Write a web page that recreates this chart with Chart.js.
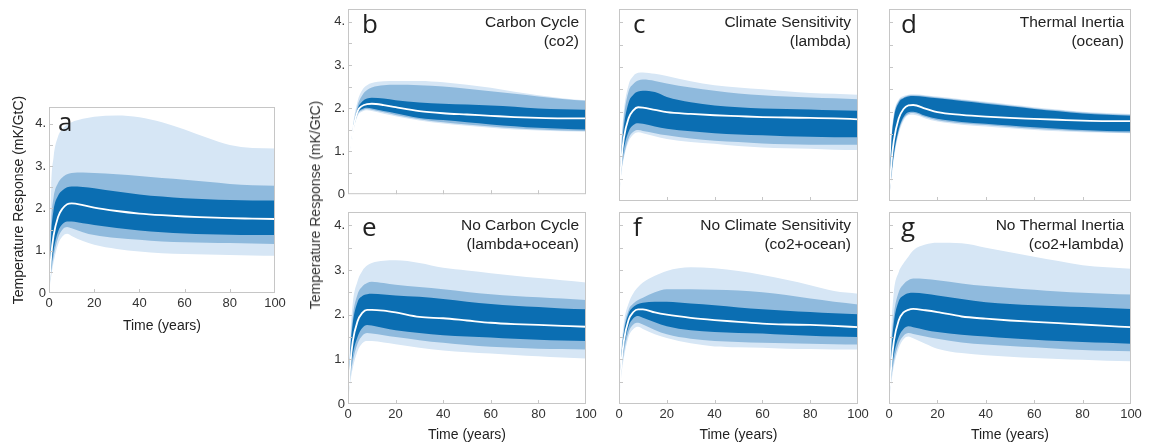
<!DOCTYPE html>
<html>
<head>
<meta charset="utf-8">
<script src="https://cdn.jsdelivr.net/npm/chart.js@4.4.0/dist/chart.umd.min.js"></script>
<style>
  body { margin: 0; background: #fff; width: 1149px; height: 446px; position: relative; overflow: hidden; }
  .panel { position: absolute; }
  #sharedTitle {
    position: absolute; left: 315px; top: 205px;
    transform: translate(-50%, -50%) rotate(-90deg);
    white-space: nowrap; font-family: "Liberation Sans", Arial, sans-serif;
    font-size: 14px; color: #333;
  }
</style>
</head>
<body>
<div class="panel" id="boxA"><canvas id="chartA"></canvas></div>
<div class="panel" id="boxB"><canvas id="chartB"></canvas></div>
<div class="panel" id="boxC"><canvas id="chartC"></canvas></div>
<div class="panel" id="boxD"><canvas id="chartD"></canvas></div>
<div class="panel" id="boxE"><canvas id="chartE"></canvas></div>
<div class="panel" id="boxF"><canvas id="chartF"></canvas></div>
<div class="panel" id="boxG"><canvas id="chartG"></canvas></div>
<div id="sharedTitle">Temperature Response (mK/GtC)</div>

<script>
// tempo (anni) in cui leggo i valori
var years = [0, 1, 2, 4, 6, 8, 10, 15, 20, 30, 40, 50, 60, 70, 80, 90, 100];

var xTickValues = [0, 20, 40, 60, 80, 100];
var xTickLabels = ['0', '20', '40', '60', '80', '100'];
var yTickValues = [0, 0.5, 1, 1.5, 2, 2.5, 3, 3.5, 4];
var yTickLabels = ['0', '', '1.', '', '2.', '', '3.', '', '4.'];

var yTitle = 'Temperature Response (mK/GtC)';
var xTitle = 'Time (years)';

// a - tutte le incertezze
var aLightHi = [0, 2.5, 3.2, 3.7, 3.88, 3.98, 4.04, 4.12, 4.17, 4.2, 4.16, 4.04, 3.87, 3.67, 3.5, 3.43, 3.42];
var aMedHi   = [0, 1.7, 2.25, 2.6, 2.74, 2.81, 2.84, 2.85, 2.84, 2.81, 2.77, 2.72, 2.68, 2.63, 2.58, 2.55, 2.54];
var aDarkHi  = [0, 1.4, 1.95, 2.3, 2.43, 2.5, 2.52, 2.51, 2.48, 2.4, 2.33, 2.28, 2.24, 2.22, 2.2, 2.19, 2.19];
var aMedian  = [0, 0.9, 1.35, 1.8, 2.0, 2.1, 2.12, 2.08, 2.02, 1.94, 1.88, 1.84, 1.81, 1.79, 1.77, 1.76, 1.75];
var aDarkLo  = [0, 0.6, 1.0, 1.45, 1.63, 1.69, 1.69, 1.65, 1.61, 1.54, 1.48, 1.44, 1.41, 1.39, 1.38, 1.37, 1.37];
var aMedLo   = [0, 0.5, 0.85, 1.3, 1.5, 1.56, 1.53, 1.44, 1.37, 1.3, 1.26, 1.22, 1.2, 1.19, 1.18, 1.17, 1.16];
var aLightLo = [0, 0.4, 0.72, 1.15, 1.34, 1.4, 1.35, 1.23, 1.14, 1.04, 0.98, 0.94, 0.92, 0.91, 0.9, 0.89, 0.88];

// b - Carbon Cycle (co2)
var bLightHi = [0, 0.95, 1.55, 2.15, 2.42, 2.53, 2.58, 2.62, 2.63, 2.63, 2.6, 2.54, 2.47, 2.38, 2.3, 2.23, 2.18];
var bMedHi   = [0, 0.93, 1.5, 2.05, 2.3, 2.42, 2.48, 2.53, 2.54, 2.53, 2.5, 2.45, 2.39, 2.33, 2.27, 2.21, 2.17];
var bDarkHi  = [0, 0.91, 1.46, 1.97, 2.15, 2.22, 2.24, 2.22, 2.18, 2.13, 2.1, 2.08, 2.06, 2.03, 1.99, 1.97, 1.96];
var bMedian  = [0, 0.9, 1.43, 1.92, 2.05, 2.09, 2.1, 2.07, 2.02, 1.93, 1.88, 1.85, 1.82, 1.79, 1.77, 1.76, 1.76];
var bDarkLo  = [0, 0.89, 1.4, 1.87, 1.98, 2.01, 1.99, 1.93, 1.88, 1.77, 1.72, 1.67, 1.62, 1.58, 1.54, 1.52, 1.5];
var bMedLo   = [0, 0.88, 1.38, 1.84, 1.95, 1.98, 1.96, 1.9, 1.84, 1.74, 1.67, 1.62, 1.57, 1.53, 1.5, 1.48, 1.47];
var bLightLo = [0, 0.87, 1.36, 1.81, 1.92, 1.95, 1.93, 1.87, 1.81, 1.71, 1.64, 1.59, 1.54, 1.5, 1.48, 1.46, 1.45];

// c - Climate Sensitivity (lambda)
var cLightHi = [0, 1.3, 2.0, 2.6, 2.8, 2.87, 2.88, 2.85, 2.8, 2.68, 2.59, 2.54, 2.5, 2.46, 2.42, 2.4, 2.38];
var cMedHi   = [0, 1.2, 1.85, 2.45, 2.62, 2.7, 2.72, 2.69, 2.63, 2.54, 2.47, 2.41, 2.37, 2.34, 2.32, 2.3, 2.28];
var cDarkHi  = [0, 1.05, 1.65, 2.2, 2.38, 2.45, 2.47, 2.44, 2.33, 2.21, 2.14, 2.1, 2.07, 2.06, 2.05, 2.03, 2.02];
var cMedian  = [0, 0.9, 1.4, 1.85, 2.03, 2.1, 2.09, 2.04, 1.99, 1.95, 1.92, 1.9, 1.88, 1.87, 1.86, 1.85, 1.83];
var cDarkLo  = [0, 0.75, 1.15, 1.55, 1.7, 1.74, 1.73, 1.67, 1.62, 1.56, 1.52, 1.49, 1.47, 1.45, 1.44, 1.43, 1.43];
var cMedLo   = [0, 0.65, 1.0, 1.4, 1.55, 1.59, 1.57, 1.52, 1.47, 1.4, 1.35, 1.32, 1.29, 1.27, 1.26, 1.26, 1.26];
var cLightLo = [0, 0.62, 0.95, 1.33, 1.49, 1.54, 1.52, 1.45, 1.39, 1.32, 1.28, 1.23, 1.2, 1.18, 1.17, 1.15, 1.14];

// d - Thermal Inertia (ocean)
var dLightHi = [0, 1.4, 1.95, 2.27, 2.35, 2.38, 2.39, 2.37, 2.34, 2.28, 2.22, 2.16, 2.1, 2.05, 2.0, 1.97, 1.95];
var dMedHi   = [0, 1.35, 1.9, 2.24, 2.32, 2.36, 2.37, 2.35, 2.32, 2.26, 2.2, 2.14, 2.08, 2.03, 1.98, 1.95, 1.93];
var dDarkHi  = [0, 1.3, 1.85, 2.2, 2.3, 2.34, 2.35, 2.33, 2.3, 2.24, 2.18, 2.12, 2.06, 2.01, 1.96, 1.93, 1.91];
var dMedian  = [0, 0.85, 1.35, 1.85, 2.06, 2.14, 2.15, 2.07, 1.99, 1.93, 1.89, 1.86, 1.84, 1.82, 1.8, 1.79, 1.79];
var dDarkLo  = [0, 0.6, 1.05, 1.6, 1.88, 1.99, 2.0, 1.91, 1.84, 1.77, 1.73, 1.69, 1.65, 1.62, 1.59, 1.57, 1.56];
var dMedLo   = [0, 0.55, 1.0, 1.55, 1.84, 1.95, 1.97, 1.88, 1.81, 1.74, 1.7, 1.66, 1.62, 1.59, 1.56, 1.54, 1.53];
var dLightLo = [0, 0.5, 0.95, 1.5, 1.8, 1.92, 1.93, 1.85, 1.78, 1.71, 1.67, 1.63, 1.59, 1.56, 1.54, 1.53, 1.52];

// e - No Carbon Cycle (lambda+ocean)
var eLightHi = [0, 1.5, 2.25, 2.75, 2.98, 3.1, 3.16, 3.21, 3.22, 3.16, 3.05, 2.99, 2.93, 2.87, 2.82, 2.77, 2.72];
var eMedHi   = [0, 1.3, 1.95, 2.45, 2.63, 2.71, 2.74, 2.71, 2.67, 2.62, 2.57, 2.51, 2.46, 2.42, 2.39, 2.36, 2.33];
var eDarkHi  = [0, 1.2, 1.8, 2.28, 2.42, 2.46, 2.47, 2.45, 2.43, 2.4, 2.35, 2.29, 2.24, 2.2, 2.17, 2.14, 2.12];
var eMedian  = [0, 0.9, 1.4, 1.85, 2.04, 2.11, 2.11, 2.09, 2.05, 1.95, 1.92, 1.87, 1.82, 1.79, 1.77, 1.75, 1.73];
var eDarkLo  = [0, 0.7, 1.1, 1.5, 1.7, 1.77, 1.76, 1.7, 1.65, 1.59, 1.54, 1.51, 1.49, 1.46, 1.44, 1.42, 1.41];
var eMedLo   = [0, 0.6, 0.95, 1.35, 1.53, 1.59, 1.58, 1.54, 1.5, 1.43, 1.37, 1.32, 1.28, 1.26, 1.24, 1.23, 1.22];
var eLightLo = [0, 0.5, 0.8, 1.18, 1.36, 1.41, 1.41, 1.38, 1.34, 1.26, 1.2, 1.16, 1.13, 1.1, 1.07, 1.04, 1.02];

// f - No Climate Sensitivity (co2+ocean)
var fLightHi = [0, 1.2, 1.8, 2.25, 2.48, 2.62, 2.72, 2.87, 2.98, 3.06, 3.04, 2.98, 2.89, 2.78, 2.66, 2.53, 2.47];
var fMedHi   = [0, 1.1, 1.65, 2.1, 2.25, 2.33, 2.38, 2.5, 2.57, 2.57, 2.56, 2.54, 2.5, 2.44, 2.36, 2.29, 2.23];
var fDarkHi  = [0, 1.05, 1.58, 2.02, 2.17, 2.24, 2.27, 2.29, 2.29, 2.25, 2.21, 2.16, 2.12, 2.09, 2.06, 2.03, 2.01];
var fMedian  = [0, 0.9, 1.4, 1.88, 2.06, 2.12, 2.12, 2.05, 2.0, 1.93, 1.88, 1.84, 1.8, 1.78, 1.77, 1.75, 1.72];
var fDarkLo  = [0, 0.8, 1.25, 1.73, 1.92, 1.97, 1.93, 1.83, 1.74, 1.65, 1.61, 1.59, 1.58, 1.55, 1.53, 1.51, 1.5];
var fMedLo   = [0, 0.72, 1.13, 1.6, 1.78, 1.82, 1.78, 1.66, 1.56, 1.46, 1.41, 1.39, 1.37, 1.36, 1.35, 1.34, 1.33];
var fLightLo = [0, 0.65, 1.03, 1.5, 1.68, 1.73, 1.68, 1.56, 1.48, 1.36, 1.29, 1.27, 1.26, 1.24, 1.23, 1.22, 1.22];

// g - No Thermal Inertia (co2+lambda)
var gLightHi = [0, 1.7, 2.5, 2.95, 3.15, 3.3, 3.44, 3.57, 3.61, 3.6, 3.5, 3.4, 3.3, 3.2, 3.11, 3.06, 3.03];
var gMedHi   = [0, 1.35, 2.0, 2.5, 2.68, 2.77, 2.81, 2.8, 2.77, 2.7, 2.64, 2.6, 2.56, 2.52, 2.49, 2.47, 2.45];
var gDarkHi  = [0, 1.2, 1.82, 2.3, 2.43, 2.48, 2.49, 2.47, 2.43, 2.35, 2.28, 2.24, 2.21, 2.19, 2.17, 2.15, 2.13];
var gMedian  = [0, 0.9, 1.4, 1.87, 2.05, 2.11, 2.13, 2.1, 2.06, 1.96, 1.91, 1.87, 1.84, 1.81, 1.78, 1.75, 1.72];
var gDarkLo  = [0, 0.7, 1.1, 1.5, 1.68, 1.74, 1.72, 1.66, 1.61, 1.55, 1.51, 1.47, 1.44, 1.41, 1.39, 1.37, 1.35];
var gMedLo   = [0, 0.6, 0.95, 1.35, 1.53, 1.59, 1.57, 1.51, 1.46, 1.38, 1.33, 1.3, 1.27, 1.24, 1.21, 1.19, 1.18];
var gLightLo = [0, 0.5, 0.85, 1.25, 1.45, 1.51, 1.47, 1.35, 1.24, 1.14, 1.09, 1.06, 1.03, 1.01, 0.99, 0.97, 0.96];

var panelLetters = ['a', 'b', 'c', 'd', 'e', 'f', 'g'];
var panelTitles = [
  [],
  ['Carbon Cycle', '(co2)'],
  ['Climate Sensitivity', '(lambda)'],
  ['Thermal Inertia', '(ocean)'],
  ['No Carbon Cycle', '(lambda+ocean)'],
  ['No Climate Sensitivity', '(co2+ocean)'],
  ['No Thermal Inertia', '(co2+lambda)']
];

var LIGHT = 'rgb(214, 230, 245)';
var MEDIUM = 'rgb(143, 186, 221)';
var DARK = 'rgb(11, 110, 178)';

var YW = 40, PT = 12, PR = 16;                              // spazio asse y, sopra, a destra

function points(values) {
  return values.map(function (v, i) { return { x: years[i], y: v }; });
}

function band(values, color) {                              // bordo di una fascia, riempita fino alla successiva
  return {
    data: points(values),
    fill: color ? '+1' : false,
    backgroundColor: color || 'transparent',
    borderColor: 'transparent',
    borderWidth: 0,
    pointRadius: 0,
    cubicInterpolationMode: 'monotone'
  };
}

var panelDecor = {
  id: 'panelDecor',
  afterDatasetsDraw: function (chart, args, opts) {
    var ctx = chart.ctx;
    var area = chart.chartArea;
    var xs = chart.scales.x;
    var ys = chart.scales.y;

    ctx.save();
    ctx.strokeStyle = '#c6c6c6';
    ctx.lineWidth = 1;
    ctx.strokeRect(area.left + 0.5, area.top + 0.5, area.right - area.left - 1, area.bottom - area.top - 1);

    ctx.beginPath();                                        // tacche interne
    ys.ticks.forEach(function (t) {
      if (t.value > 0) {
        var y = Math.round(ys.getPixelForValue(t.value)) + 0.5;
        ctx.moveTo(area.left, y);
        ctx.lineTo(area.left + 4, y);
      }
    });
    xs.ticks.forEach(function (t) {
      if (t.value > xs.min && t.value < xs.max) {
        var x = Math.round(xs.getPixelForValue(t.value)) + 0.5;
        ctx.moveTo(x, area.bottom);
        ctx.lineTo(x, area.bottom - 4);
      }
    });
    ctx.stroke();

    ctx.fillStyle = '#222';
    ctx.textBaseline = 'alphabetic';
    ctx.textAlign = 'left';
    ctx.font = '26px "Open Sans"';
    ctx.fillText(opts.letter, area.left + opts.letterDx, area.top + 24);

    ctx.textAlign = 'right';
    ctx.font = '15.5px "Liberation Sans"';
    opts.title.forEach(function (line, i) {
      ctx.fillText(line, area.right - 7, area.top + 17.5 + i * 19.5);
    });
    ctx.restore();
  }
};

function createPanel(n, id, box, series, showX, showY) {
  var xh = showX ? box.xh : 4;
  var holder = document.getElementById('box' + id);
  var w = YW + (box.r - box.l) + PR;
  var h = PT + (box.b - box.t) + xh;
  holder.style.left = (box.l - YW) + 'px';
  holder.style.top = (box.t - PT) + 'px';
  var canvas = document.getElementById('chart' + id);
  canvas.width = w;
  canvas.height = h;

  var tickFont = { family: 'Liberation Sans', size: 13 };
  var titleFont = { family: 'Liberation Sans', size: 14 };

  new Chart(canvas, {
    type: 'line',
    data: {
      datasets: [
        {
          data: points(series[3]),
          borderColor: '#ffffff',
          borderWidth: 1.8,
          pointRadius: 0,
          fill: false,
          cubicInterpolationMode: 'monotone'
        },
        band(series[2], DARK), band(series[4]),
        band(series[1], MEDIUM), band(series[5]),
        band(series[0], LIGHT), band(series[6])
      ]
    },
    options: {
      responsive: false,
      animation: false,
      devicePixelRatio: 1,
      layout: { padding: { top: PT, right: PR, left: 0, bottom: 0 } },
      plugins: {
        legend: { display: false },
        tooltip: { enabled: false },
        panelDecor: { letter: panelLetters[n], title: panelTitles[n], letterDx: box.ldx }
      },
      scales: {
        x: {
          type: 'linear',
          min: 0,
          max: 100,
          grid: { display: false, drawTicks: false },
          border: { display: false },
          afterBuildTicks: function (scale) {
            scale.ticks = xTickValues.map(function (v) { return { value: v }; });
          },
          ticks: {
            display: showX,
            padding: 3,
            maxRotation: 0,
            autoSkip: false,
            color: '#333',
            font: tickFont,
            callback: function (value, index) { return xTickLabels[index]; }
          },
          title: { display: showX, text: xTitle, color: '#222', font: titleFont, padding: 0 },
          afterFit: function (scale) { scale.height = xh; }
        },
        y: {
          min: 0,
          max: box.ymax,
          grid: { display: false, drawTicks: false },
          border: { display: false },
          afterBuildTicks: function (scale) {
            scale.ticks = yTickValues.map(function (v) { return { value: v }; });
          },
          ticks: {
            display: showY,
            padding: 3,
            autoSkip: false,
            color: '#333',
            font: tickFont,
            callback: function (value, index) { return yTickLabels[index]; }
          },
          title: { display: n === 0, text: yTitle, color: '#222', font: titleFont, padding: { top: 2, bottom: 0 } },
          afterFit: function (scale) { scale.width = YW; }
        }
      }
    },
    plugins: [panelDecor]
  });
}

function init() {
  createPanel(0, 'A', { l: 49, t: 107, r: 275, b: 293, ymax: 4.4, xh: 42, ldx: 9 },
    [aLightHi, aMedHi, aDarkHi, aMedian, aDarkLo, aMedLo, aLightLo], true, true);
  createPanel(1, 'B', { l: 348, t: 9, r: 586, b: 201, ymax: 4.3, ldx: 14 },
    [bLightHi, bMedHi, bDarkHi, bMedian, bDarkLo, bMedLo, bLightLo], false, true);
  createPanel(2, 'C', { l: 619, t: 9, r: 858, b: 201, ymax: 4.3, ldx: 14 },
    [cLightHi, cMedHi, cDarkHi, cMedian, cDarkLo, cMedLo, cLightLo], false, false);
  createPanel(3, 'D', { l: 889, t: 9, r: 1131, b: 201, ymax: 4.3, ldx: 12 },
    [dLightHi, dMedHi, dDarkHi, dMedian, dDarkLo, dMedLo, dLightLo], false, false);
  createPanel(4, 'E', { l: 348, t: 212, r: 586, b: 404, ymax: 4.3, xh: 40, ldx: 14 },
    [eLightHi, eMedHi, eDarkHi, eMedian, eDarkLo, eMedLo, eLightLo], true, true);
  createPanel(5, 'F', { l: 619, t: 212, r: 858, b: 404, ymax: 4.3, xh: 40, ldx: 14 },
    [fLightHi, fMedHi, fDarkHi, fMedian, fDarkLo, fMedLo, fLightLo], true, false);
  createPanel(6, 'G', { l: 889, t: 212, r: 1131, b: 404, ymax: 4.3, xh: 40, ldx: 12 },
    [gLightHi, gMedHi, gDarkHi, gMedian, gDarkLo, gMedLo, gLightLo], true, false);
}

init();
</script>
</body>
</html>
